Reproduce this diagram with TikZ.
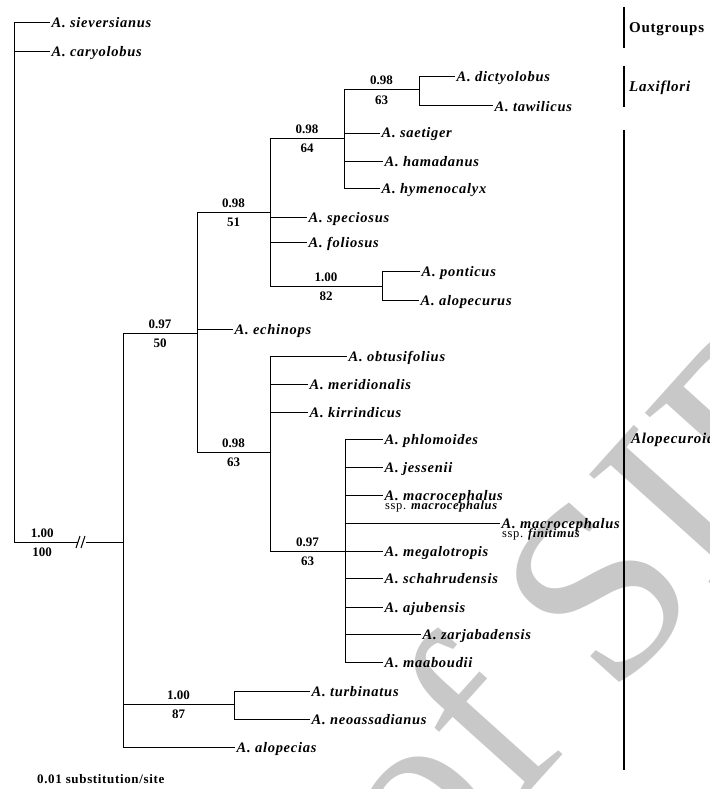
\documentclass[tikz,border=0pt]{standalone}
\usepackage{fontspec}
\setmainfont{Liberation Serif}
\newfontfamily\spfont{Liberation Serif}[LetterSpace=5]
\definecolor{wm}{RGB}{200,200,200}
\tikzset{
  br/.style={line width=1pt},
  barline/.style={line width=2pt},
  leaf/.style={anchor=west, inner xsep=1.5pt, inner ysep=0pt, text height=10pt, text depth=0pt,
    font=\spfont\bfseries\itshape\fontsize{14.5}{16}\selectfont},
  ssp/.style={anchor=base west, inner sep=0pt, font=\spfont\fontsize{12.5}{14}\selectfont},
  sup/.style={anchor=south, inner sep=0pt, text depth=0pt, yshift=4.5pt,
    font=\bfseries\fontsize{13}{15}\selectfont},
  sub/.style={anchor=north, inner sep=0pt, text height=9pt, yshift=-5pt,
    font=\bfseries\fontsize{13}{15}\selectfont},
  grp/.style={anchor=west, inner sep=0pt, text height=10pt, text depth=0pt,
    font=\spfont\bfseries\fontsize{15}{17}\selectfont},
}
\begin{document}
\begin{tikzpicture}[x=1pt,y=-1pt]
\useasboundingbox (0,0) rectangle (709,789);
% watermark
\node[text=wm, rotate=48, inner sep=0pt, font=\fontsize{255}{255}\selectfont] (wmark) at (592,590) {of SID};

% internal nodes
\coordinate (R) at (14,542);
\coordinate (brkL) at (78,542);
\coordinate (brkR) at (86,542);
\coordinate (I) at (123,542);
\coordinate (A) at (197,333);
\coordinate (B) at (270,212);
\coordinate (C) at (344,138);
\coordinate (L) at (419,90);
\coordinate (P) at (382,286);
\coordinate (D) at (270,452);
\coordinate (E) at (345,551);
\coordinate (T) at (234,704);

% leaves
\node[leaf] (sie) at (50,23) {A. sieversianus};
\node[leaf] (car) at (50,52) {A. caryolobus};
\node[leaf] (dic) at (455,77) {A. dictyolobus};
\node[leaf] (taw) at (493,106) {A. tawilicus};
\node[leaf] (sae) at (380,133) {A. saetiger};
\node[leaf] (ham) at (383,161) {A. hamadanus};
\node[leaf] (hym) at (380,188) {A. hymenocalyx};
\node[leaf] (spe) at (307,217) {A. speciosus};
\node[leaf] (fol) at (307,242) {A. foliosus};
\node[leaf] (pon) at (420,271) {A. ponticus};
\node[leaf] (alo) at (419,300) {A. alopecurus};
\node[leaf] (ech) at (233,329) {A. echinops};
\node[leaf] (obt) at (347,356) {A. obtusifolius};
\node[leaf] (mer) at (308,384) {A. meridionalis};
\node[leaf] (kir) at (308,412) {A. kirrindicus};
\node[leaf] (phl) at (383,439) {A. phlomoides};
\node[leaf] (jes) at (383,467) {A. jessenii};
\node[leaf] (mac) at (383,495) {A. macrocephalus};
\node[ssp] (macs) at ([xshift=2pt,yshift=-14.5pt]mac.west) {ssp. {\bfseries\itshape macrocephalus}};
\node[leaf] (fin) at (500,523) {A. macrocephalus};
\node[ssp] (fins) at ([xshift=2pt,yshift=-14.5pt]fin.west) {ssp. {\bfseries\itshape finitimus}};
\node[leaf] (meg) at (383,551) {A. megalotropis};
\node[leaf] (sch) at (383,578) {A. schahrudensis};
\node[leaf] (aju) at (383,607) {A. ajubensis};
\node[leaf] (zar) at (421,634) {A. zarjabadensis};
\node[leaf] (maa) at (383,662) {A. maaboudii};
\node[leaf] (tur) at (310,691) {A. turbinatus};
\node[leaf] (neo) at (310,719) {A. neoassadianus};
\node[leaf] (alp) at (235,747) {A. alopecias};

% root and outgroups
\draw[br] (R) |- (sie.west);
\draw[br] (R) |- (car.west);
\draw[br] (R) -- (brkL) node[sup,pos=0.44]{1.00} node[sub,pos=0.44]{100};
\draw[br] ([shift={(-2,6)}]brkL) -- ++(4,-12);
\draw[br] ([shift={(3,6)}]brkL) -- ++(4,-12);
\draw[br] (brkR) -- (I);

% ingroup
\draw[br] (I) |- (A) node[sup,pos=0.75]{0.97} node[sub,pos=0.75]{50};
\draw[br] (I) |- (T) node[sup,pos=0.75]{1.00} node[sub,pos=0.75]{87};
\draw[br] (I) |- (alp.west);

\draw[br] (A) |- (B) node[sup,pos=0.75]{0.98} node[sub,pos=0.75]{51};
\draw[br] (A) |- (ech.west);
\draw[br] (A) |- (D) node[sup,pos=0.75]{0.98} node[sub,pos=0.75]{63};

\draw[br] (B) |- (C) node[sup,pos=0.75]{0.98} node[sub,pos=0.75]{64};
\draw[br] (B) |- (spe.west);
\draw[br] (B) |- (fol.west);
\draw[br] (B) |- (P) node[sup,pos=0.75]{1.00} node[sub,pos=0.75]{82};

\draw[br] (C) |- (L) node[sup,pos=0.75]{0.98} node[sub,pos=0.75]{63};
\draw[br] (C) |- (sae.west);
\draw[br] (C) |- (ham.west);
\draw[br] (C) |- (hym.west);

\draw[br] (L) |- (dic.west);
\draw[br] (L) |- (taw.west);

\draw[br] (P) |- (pon.west);
\draw[br] (P) |- (alo.west);

\draw[br] (D) |- (obt.west);
\draw[br] (D) |- (mer.west);
\draw[br] (D) |- (kir.west);
\draw[br] (D) |- (E) node[sup,pos=0.75]{0.97} node[sub,pos=0.75]{63};

\draw[br] (E) |- (phl.west);
\draw[br] (E) |- (jes.west);
\draw[br] (E) |- (mac.west);
\draw[br] (E) |- (fin.west);
\draw[br] (E) |- (meg.west);
\draw[br] (E) |- (sch.west);
\draw[br] (E) |- (aju.west);
\draw[br] (E) |- (zar.west);
\draw[br] (E) |- (maa.west);

\draw[br] (T) |- (tur.west);
\draw[br] (T) |- (neo.west);

% group bars
\coordinate (og1) at (624,7);
\coordinate (og2) at (624,48);
\coordinate (lx1) at (624,66);
\coordinate (lx2) at (624,107);
\coordinate (al1) at (624,130);
\coordinate (al2) at (624,770);
\draw[barline] (og1) -- (og2);
\draw[barline] (lx1) -- (lx2);
\draw[barline] (al1) -- (al2);
\node[grp] (outg) at (629,28) {Outgroups};
\node[grp, font=\spfont\bfseries\itshape\fontsize{15}{17}\selectfont] (laxi) at (629,87) {Laxiflori};
\node[grp, font=\spfont\bfseries\itshape\fontsize{15}{17}\selectfont] (alop) at (631,438) {Alopecuroides};

% scale text
\node[anchor=west, inner sep=0pt, font=\spfont\bfseries\fontsize{13}{15}\selectfont] (scale) at (37,779) {0.01 substitution/site};
\end{tikzpicture}
\end{document}
